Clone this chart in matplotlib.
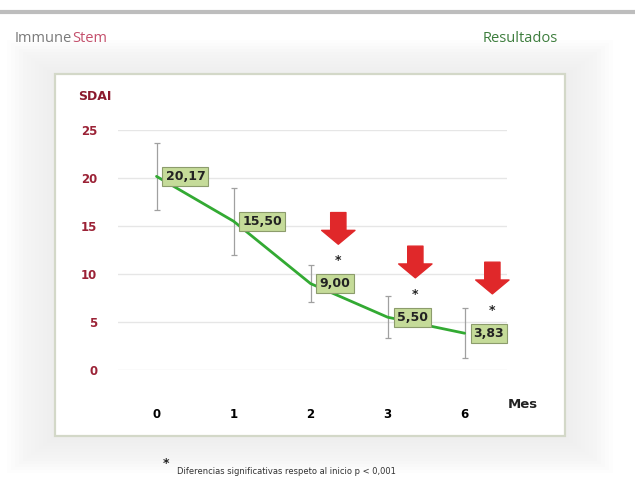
import numpy as np
import matplotlib.pyplot as plt
from matplotlib.patches import Rectangle, FancyArrowPatch
from matplotlib.lines import Line2D

# 数据
meses = ['0', '1', '2', '3', '6']
sdai = [20.17, 15.50, 9.00, 5.50, 3.83]
error = [3.5, 3.5, 1.9, 2.2, 2.6]
etiquetas = ['20,17', '15,50', '9,00', '5,50', '3,83']
significativo = [False, False, True, True, True]
yticks = [0, 5, 10, 15, 20, 25]

W, H = 635, 504
fig = plt.figure(figsize=(W / 100, H / 100), dpi=100)
fig.patch.set_facecolor('white')

def fx(px):
    return px / W

def fy(py):
    return 1 - py / H

# 顶部灰线
fig.add_artist(Line2D([0, 1], [fy(12), fy(12)], color='#bdbdbd', lw=3, zorder=-5))

# 背景阴影
for k in range(12, 0, -1):
    fig.add_artist(Rectangle((fx(55 - 4 * k), fy(437 + 3 * k)), fx(510 + 8 * k), (361 + 6 * k) / H,
                             facecolor='#a0a0a0', edgecolor='none', alpha=0.011, zorder=-5))
# 白色面板
fig.add_artist(Rectangle((fx(55), fy(436)), fx(510), 362 / H,
                         facecolor='white', edgecolor='#d3d8c8', lw=1.6, zorder=-4))

# 标题
t1 = fig.text(fx(15), fy(38), 'Immune', color='#7a7a7a', fontsize=10.5, va='center', ha='left',
              family='Open Sans')
fig.canvas.draw()
bb = t1.get_window_extent()
fig.text(bb.x1 / W, fy(38), 'Stem', color='#c4506c', fontsize=10.5, va='center', ha='left',
         family='Open Sans')
fig.text(fx(558), fy(38), 'Resultados', color='#3d7d3d', fontsize=10.5, va='center', ha='right',
         family='Open Sans')

# 坐标轴
ax = fig.add_axes([fx(118), fy(370), fx(389), 240 / H])
ax.set_zorder(2)
ax.patch.set_alpha(0)
ax.set_xlim(-0.5, 4.55)
ax.set_ylim(0, 25)
x = np.arange(len(meses))

ax.set_yticks(yticks)
ax.set_yticklabels([str(v) for v in yticks], color='#9b2236', fontweight='bold', fontsize=8.5)
ax.set_xticks(x)
ax.set_xticklabels(meses, fontweight='bold', fontsize=8.5)
ax.tick_params(axis='both', length=0)
ax.tick_params(axis='y', pad=15)
ax.tick_params(axis='x', pad=27)
for s in ax.spines.values():
    s.set_visible(False)
ax.grid(axis='y', color='#e6e6e6', lw=1)
ax.set_axisbelow(True)

# 误差线
ax.errorbar(x, sdai, yerr=error, fmt='none', ecolor='#a0a0a0', elinewidth=0.9, capsize=2.5,
            capthick=0.9, zorder=2)
# 折线
ax.plot(x, sdai, color='#33aa33', lw=2, zorder=3, solid_capstyle='round')

# 数据标签
for xi, v, t in zip(x, sdai, etiquetas):
    ax.annotate(t, (xi, v), xytext=(6.5, 0), textcoords='offset points', ha='left', va='center',
                fontsize=9, fontweight='bold', color='#222222', zorder=5,
                bbox=dict(boxstyle='square,pad=0.25', facecolor='#c5db99', edgecolor='#8c9c6c', lw=0.8))

# 红色箭头和星号
for xi, v, s in zip(x, sdai, significativo):
    if not s:
        continue
    ax.text(xi + 0.36, v + 2.4, '*', ha='center', va='center', fontsize=9, fontweight='bold',
            color='#222222')
    arr = FancyArrowPatch((xi + 0.36, v + 7.4), (xi + 0.36, v + 4.1), mutation_scale=1,
                          arrowstyle='simple,head_length=10,head_width=24,tail_width=11',
                          color='#e0282a', shrinkA=0, shrinkB=0, clip_on=False)
    ax.add_patch(arr)

# 轴标签
fig.text(fx(78), fy(97), 'SDAI', color='#8b1a2e', fontweight='bold', fontsize=9, va='center', ha='left')
fig.text(fx(508), fy(404), 'Mes', color='#222222', fontweight='bold', fontsize=9.5, va='center', ha='left')

# 脚注
fig.text(fx(166), fy(463), '*', fontsize=9, fontweight='bold', va='center', ha='center', color='#222222')
fig.text(fx(177), fy(471), 'Diferencias significativas respeto al inicio p < 0,001', fontsize=6,
         va='center', ha='left', color='#333333')

fig.savefig('out.png', dpi=100)
